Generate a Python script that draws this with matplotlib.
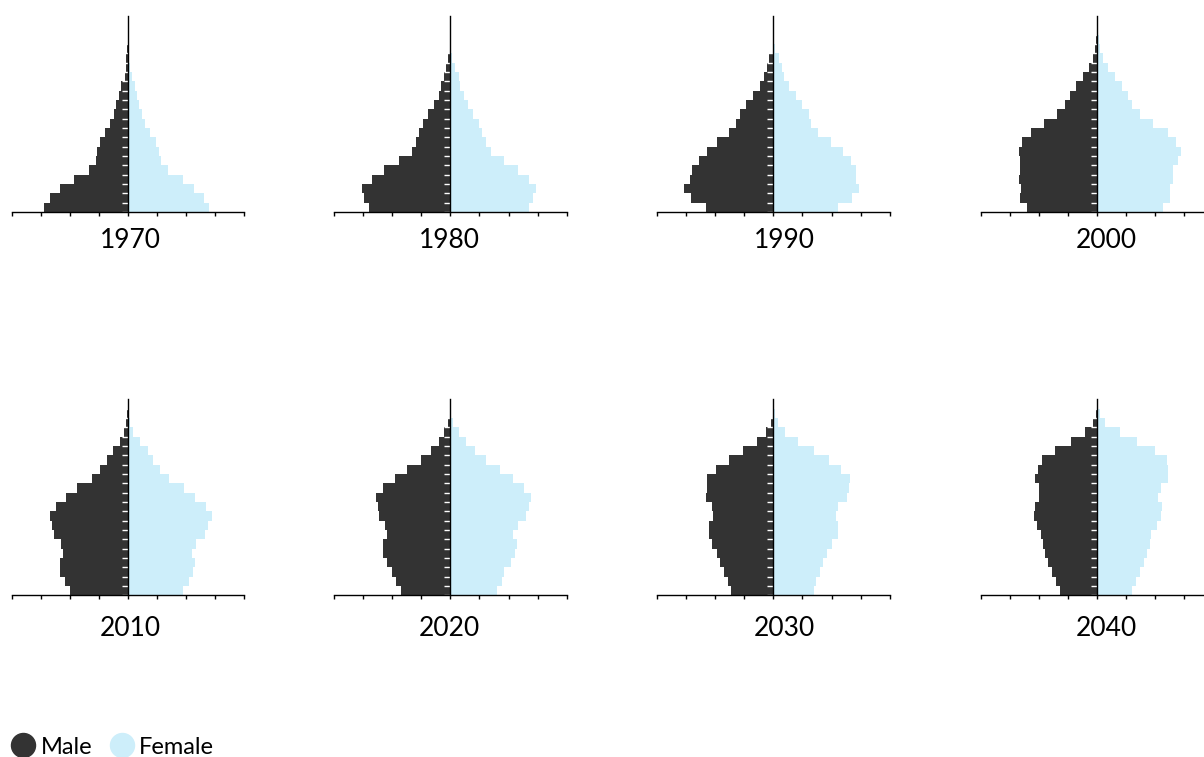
import numpy as np
import matplotlib
matplotlib.use("Agg")
import matplotlib.pyplot as plt
from matplotlib.lines import Line2D

plt.rcParams['font.family'] = ['Lato', 'DejaVu Sans']

# age groups 0-4 ... 100+, values in axis units (one tick = 1)
ages = ['0-4', '5-9', '10-14', '15-19', '20-24', '25-29', '30-34', '35-39', '40-44',
        '45-49', '50-54', '55-59', '60-64', '65-69', '70-74', '75-79', '80-84',
        '85-89', '90-94', '95-99', '100+']
years = ['1970', '1980', '1990', '2000', '2010', '2020', '2030', '2040']

male_1970 = [2.90, 2.69, 2.34, 1.86, 1.33, 1.10, 1.07, 0.97, 0.79, 0.62, 0.48, 0.41, 0.31, 0.23, 0.10, 0.06, 0.06, 0.02, 0.01, 0.01, 0.00]
female_1970 = [2.79, 2.62, 2.28, 1.89, 1.37, 1.14, 1.06, 0.97, 0.76, 0.59, 0.48, 0.40, 0.31, 0.23, 0.14, 0.06, 0.03, 0.01, 0.01, 0.00, 0.00]
male_1980 = [2.79, 2.99, 3.03, 2.71, 2.28, 1.76, 1.34, 1.17, 1.07, 0.93, 0.76, 0.55, 0.41, 0.31, 0.21, 0.17, 0.07, 0.02, 0.01, 0.00, 0.00]
female_1980 = [2.69, 2.85, 2.93, 2.72, 2.31, 1.83, 1.38, 1.21, 1.10, 0.97, 0.79, 0.59, 0.45, 0.34, 0.28, 0.17, 0.07, 0.03, 0.02, 0.01, 0.00]
male_1990 = [2.34, 2.83, 3.07, 2.86, 2.79, 2.55, 2.28, 1.93, 1.52, 1.28, 1.14, 0.93, 0.72, 0.48, 0.31, 0.21, 0.14, 0.03, 0.02, 0.01, 0.00]
female_1990 = [2.23, 2.69, 2.93, 2.86, 2.83, 2.66, 2.38, 1.97, 1.55, 1.31, 1.21, 1.00, 0.79, 0.52, 0.38, 0.28, 0.20, 0.07, 0.03, 0.01, 0.00]
male_2000 = [2.41, 2.66, 2.62, 2.69, 2.66, 2.66, 2.69, 2.59, 2.28, 1.83, 1.38, 1.10, 0.93, 0.72, 0.48, 0.28, 0.14, 0.07, 0.02, 0.01, 0.00]
female_2000 = [2.28, 2.52, 2.52, 2.62, 2.62, 2.79, 2.90, 2.72, 2.45, 1.93, 1.48, 1.21, 1.07, 0.86, 0.62, 0.38, 0.21, 0.10, 0.06, 0.02, 0.01]
male_2010 = [2.00, 2.17, 2.34, 2.34, 2.24, 2.31, 2.55, 2.62, 2.69, 2.48, 2.14, 1.76, 1.24, 0.97, 0.72, 0.52, 0.28, 0.14, 0.07, 0.02, 0.01]
female_2010 = [1.90, 2.10, 2.24, 2.31, 2.21, 2.34, 2.66, 2.76, 2.90, 2.69, 2.31, 1.93, 1.41, 1.10, 0.86, 0.69, 0.41, 0.17, 0.07, 0.03, 0.01]
male_2020 = [1.72, 1.86, 2.00, 2.17, 2.31, 2.31, 2.17, 2.24, 2.45, 2.48, 2.55, 2.31, 1.90, 1.48, 1.00, 0.66, 0.41, 0.21, 0.07, 0.02, 0.01]
female_2020 = [1.62, 1.76, 1.86, 2.07, 2.21, 2.28, 2.17, 2.31, 2.59, 2.69, 2.79, 2.55, 2.17, 1.72, 1.21, 0.86, 0.55, 0.31, 0.10, 0.03, 0.01]
male_2030 = [1.47, 1.58, 1.71, 1.85, 1.96, 2.13, 2.23, 2.23, 2.09, 2.13, 2.33, 2.30, 2.30, 1.99, 1.54, 1.06, 0.58, 0.27, 0.09, 0.02, 0.01]
female_2030 = [1.38, 1.48, 1.62, 1.72, 1.86, 2.03, 2.21, 2.24, 2.14, 2.24, 2.52, 2.59, 2.62, 2.34, 1.90, 1.41, 0.83, 0.41, 0.17, 0.05, 0.01]
male_2040 = [1.28, 1.41, 1.55, 1.69, 1.79, 1.86, 1.93, 2.07, 2.17, 2.14, 2.00, 2.00, 2.14, 2.03, 1.90, 1.45, 0.90, 0.41, 0.14, 0.03, 0.01]
female_2040 = [1.21, 1.34, 1.48, 1.62, 1.72, 1.83, 1.86, 2.07, 2.21, 2.24, 2.10, 2.21, 2.45, 2.45, 2.41, 2.00, 1.38, 0.79, 0.28, 0.10, 0.03]

males = [male_1970, male_1980, male_1990, male_2000, male_2010, male_2020, male_2030, male_2040]
females = [female_1970, female_1980, female_1990, female_2000, female_2010, female_2020, female_2030, female_2040]

dark = '#333333'
light = '#cdeefa'

W, H = 1204, 757
fig = plt.figure(figsize=(W / 100, H / 100), dpi=100)

# pixel layout
lefts = [11.7, 334.3, 657.3, 980.7]
bottoms = [212, 595.3]
ax_w, ax_h = 232.3, 196
title_x = [130, 449, 784, 1106]
title_y = [241, 629]

y = np.arange(len(ages))
for k, yr in enumerate(years):
    r, c = divmod(k, 4)
    ax = fig.add_axes([lefts[c] / W, 1 - bottoms[r] / H, ax_w / W, ax_h / H])
    ax.barh(y, -np.array(males[k]), height=1.0, color=dark, linewidth=0)
    ax.barh(y, females[k], height=1.0, color=light, linewidth=0)
    ax.set_xlim(-4, 4)
    ax.set_ylim(-0.5, len(ages) - 0.5)
    ax.set_xticks(np.arange(-4, 5))
    ax.set_xticklabels([])
    ax.tick_params(axis='x', length=3, width=1, color='black', direction='out')
    ax.set_yticks(np.arange(len(ages) + 1) - 0.5)
    ax.set_yticklabels([])
    ax.tick_params(axis='y', length=4, width=1, color='white', direction='out')
    for s in ['top', 'right']:
        ax.spines[s].set_visible(False)
    ax.spines['left'].set_position(('data', 0))
    ax.spines['left'].set_color('black')
    ax.spines['left'].set_linewidth(1)
    ax.spines['bottom'].set_color('black')
    ax.spines['bottom'].set_linewidth(1)
    ax.patch.set_alpha(0)
    fig.text(title_x[c] / W, 1 - title_y[r] / H, yr, ha='center', va='center',
             fontsize=19, color='black')

handles = [Line2D([], [], marker='o', linestyle='none', markersize=17.3,
                  markerfacecolor=dark, markeredgecolor=dark, label='Male'),
           Line2D([], [], marker='o', linestyle='none', markersize=17.3,
                  markerfacecolor=light, markeredgecolor=light, label='Female')]
fig.legend(handles=handles, loc='center left', bbox_to_anchor=(11 / W, 1 - 747 / H),
           ncol=2, frameon=False, fontsize=17, handletextpad=0.25,
           columnspacing=0.75, handlelength=1.0, borderaxespad=0, borderpad=0)

fig.savefig('out.png', dpi=100)
